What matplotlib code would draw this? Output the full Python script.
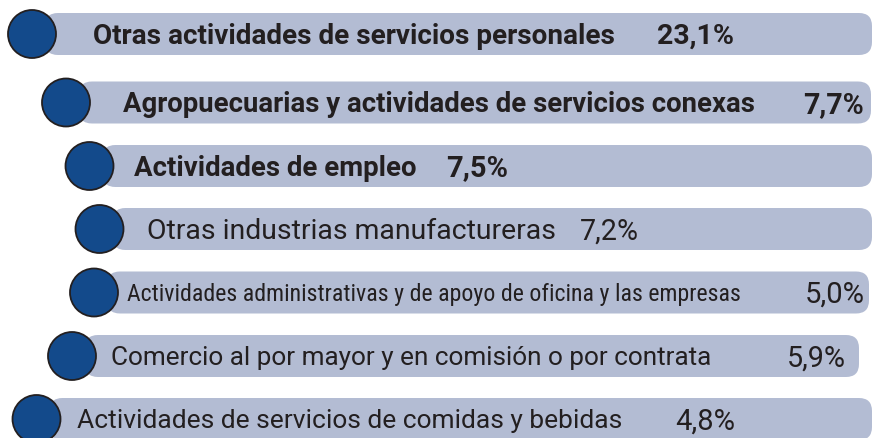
import matplotlib
matplotlib.use("Agg")
import matplotlib.pyplot as plt
from matplotlib.patches import FancyBboxPatch, Circle
from matplotlib import font_manager as fm

# ---------------- data ----------------
categories = [
    "Otras actividades de servicios personales",
    "Agropuecuarias y actividades de servicios conexas",
    "Actividades de empleo",
    "Otras industrias manufactureras",
    "Actividades administrativas y de apoyo de oficina y las empresas",
    "Comercio al por mayor y en comisión o por contrata",
    "Actividades de servicios de comidas y bebidas",
]
values = [23.1, 7.7, 7.5, 7.2, 5.0, 5.9, 4.8]
value_labels = [f"{v:.1f}%".replace(".", ",") for v in values]
bold_rows = [True, True, True, False, False, False, False]

# ---------------- layout (pixels) ----------------
row_y = [34, 102.5, 166, 229, 292.5, 356, 419]
dot_x = [32, 66, 89.5, 99.5, 94, 72, 36.5]
bar_right = [872, 871, 872, 872, 869, 859, 872]
label_span = [(93, 614), (123, 755), (134, 417), (147, 555), (127, 740), (111, 712), (77, 623)]
pct_span = [(657, 734), (803, 864), (446, 508), (580, 639), (805, 865), (787, 846), (675, 735)]
bar_h = 42
dot_r = 24
target_pt = 19.5

BAR_COLOR = "#b3bcd3"
DOT_COLOR = "#134a8b"
INK = "#231f20"

names = {e.name for e in fm.fontManager.ttflist}
FAMILIES = [n for n in ["Roboto", "Roboto Condensed", "Liberation Sans Narrow"] if n in names]
if not FAMILIES:
    FAMILIES = ["DejaVu Sans"]

W, H = 872, 438
fig = plt.figure(figsize=(W / 100, H / 100), dpi=100)
ax = fig.add_axes([0, 0, 1, 1])
ax.set_xlim(0, W)
ax.set_ylim(H, 0)
ax.axis("off")

texts = []
for i, cat in enumerate(categories):
    cy = row_y[i]
    x0 = dot_x[i] + 13
    bar = FancyBboxPatch((x0, cy - bar_h / 2), bar_right[i] - x0, bar_h,
                         boxstyle="round,pad=0,rounding_size=13",
                         facecolor=BAR_COLOR, edgecolor="none", zorder=1)
    ax.add_patch(bar)
    ax.add_patch(Circle((dot_x[i], cy), dot_r, facecolor=DOT_COLOR,
                        edgecolor=INK, linewidth=1.3, zorder=3))
    w = "bold" if bold_rows[i] else "normal"
    t1 = ax.text(label_span[i][0], cy, cat, fontsize=18, fontweight=w,
                 color=INK, ha="left", va="baseline", zorder=4, family=FAMILIES[0])
    t2 = ax.text(pct_span[i][0], cy, value_labels[i], fontsize=18, fontweight=w,
                 color=INK, ha="left", va="baseline", zorder=4, family=FAMILIES[0])
    texts.append((t1, label_span[i], cy))
    texts.append((t2, pct_span[i], cy))

fig.canvas.draw()
r = fig.canvas.get_renderer()


def fit(t, width):
    for _ in range(3):
        bb = t.get_window_extent(r)
        t.set_fontsize(t.get_fontsize() * width / bb.width)
    return t.get_fontsize()


for t, (a, b), cy in texts:
    best = None
    for fam in FAMILIES:
        t.set_family(fam)
        t.set_fontsize(18)
        fs = fit(t, b - a)
        score = abs(fs - target_pt)
        if best is None or score < best[0]:
            best = (score, fam, fs)
    t.set_family(best[1])
    t.set_fontsize(min(best[2], 22))
    fs_px = t.get_fontsize() * 100 / 72
    t.set_y(cy + 0.355 * fs_px)

fig.savefig("out.png", dpi=100)
